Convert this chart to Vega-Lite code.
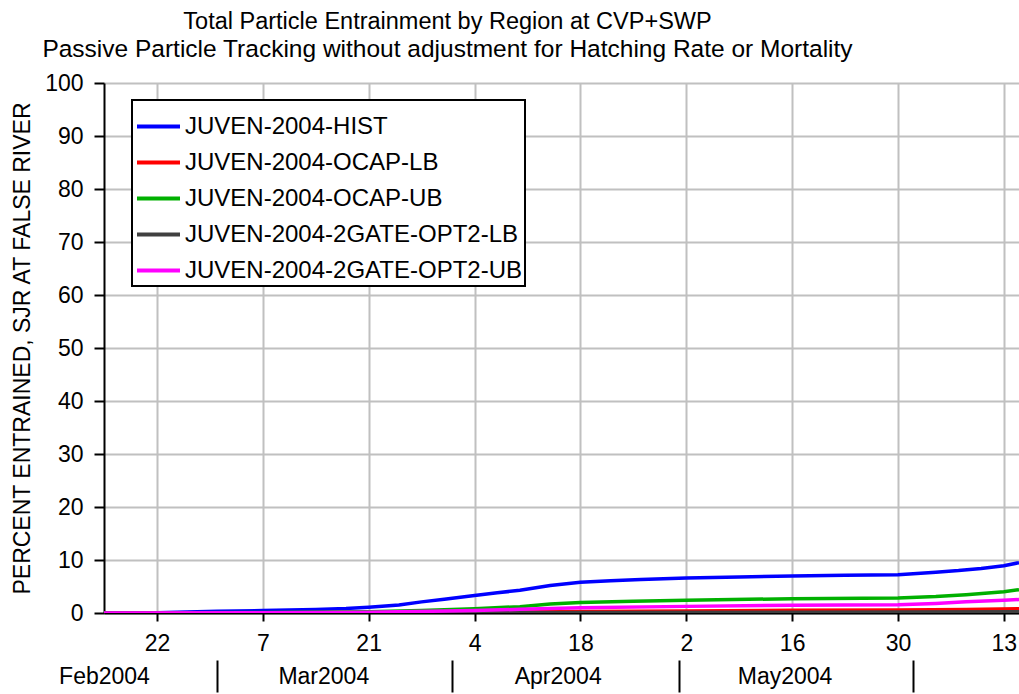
{
  "$schema": "https://vega.github.io/schema/vega-lite/v6.json",
  "width": 915,
  "height": 530,
  "autosize": {"type": "none"},
  "padding": {"left": 104, "top": 83, "right": 0, "bottom": 81},
  "background": "white",
  "title": {
    "text": "Total Particle Entrainment by Region at CVP+SWP",
    "subtitle": "Passive Particle Tracking without adjustment for Hatching Rate or Mortality",
    "anchor": "middle",
    "frame": "group",
    "dx": -114,
    "offset": 11,
    "fontSize": 23.5,
    "fontWeight": "normal",
    "font": "Liberation Sans",
    "color": "black",
    "subtitleFontSize": 24.5,
    "subtitleFont": "Liberation Sans",
    "subtitleColor": "black",
    "subtitlePadding": 4
  },
  "config": {
    "font": "Liberation Sans",
    "view": {"stroke": null},
    "axis": {
      "labelFont": "Liberation Sans",
      "labelFontSize": 23,
      "labelColor": "black",
      "titleFont": "Liberation Sans",
      "titleColor": "black",
      "titleFontWeight": "normal",
      "gridColor": "#c0c0c0",
      "gridWidth": 2,
      "gridOpacity": 1,
      "tickColor": "black",
      "tickWidth": 2,
      "domainColor": "black",
      "domainWidth": 2
    }
  },
  "resolve": {"axis": {"x": "independent"}},
  "layer": [
    {
      "data": {
        "values": [
          {"series": "JUVEN-2004-HIST", "date": "2004-02-15T00:00", "value": 0},
          {"series": "JUVEN-2004-HIST", "date": "2004-02-22T00:00", "value": 0.05},
          {"series": "JUVEN-2004-HIST", "date": "2004-02-26T00:00", "value": 0.2},
          {"series": "JUVEN-2004-HIST", "date": "2004-03-01T00:00", "value": 0.35},
          {"series": "JUVEN-2004-HIST", "date": "2004-03-07T00:00", "value": 0.45},
          {"series": "JUVEN-2004-HIST", "date": "2004-03-14T00:00", "value": 0.65},
          {"series": "JUVEN-2004-HIST", "date": "2004-03-18T00:00", "value": 0.85},
          {"series": "JUVEN-2004-HIST", "date": "2004-03-21T00:00", "value": 1.1},
          {"series": "JUVEN-2004-HIST", "date": "2004-03-25T00:00", "value": 1.5},
          {"series": "JUVEN-2004-HIST", "date": "2004-03-28T00:00", "value": 2.1},
          {"series": "JUVEN-2004-HIST", "date": "2004-03-31T00:00", "value": 2.6},
          {"series": "JUVEN-2004-HIST", "date": "2004-04-04T00:00", "value": 3.3},
          {"series": "JUVEN-2004-HIST", "date": "2004-04-07T00:00", "value": 3.8},
          {"series": "JUVEN-2004-HIST", "date": "2004-04-10T00:00", "value": 4.3},
          {"series": "JUVEN-2004-HIST", "date": "2004-04-14T00:00", "value": 5.2},
          {"series": "JUVEN-2004-HIST", "date": "2004-04-18T00:00", "value": 5.8},
          {"series": "JUVEN-2004-HIST", "date": "2004-04-22T00:00", "value": 6.1},
          {"series": "JUVEN-2004-HIST", "date": "2004-04-26T00:00", "value": 6.3},
          {"series": "JUVEN-2004-HIST", "date": "2004-05-02T00:00", "value": 6.6},
          {"series": "JUVEN-2004-HIST", "date": "2004-05-09T00:00", "value": 6.8},
          {"series": "JUVEN-2004-HIST", "date": "2004-05-16T00:00", "value": 7.0},
          {"series": "JUVEN-2004-HIST", "date": "2004-05-23T00:00", "value": 7.1},
          {"series": "JUVEN-2004-HIST", "date": "2004-05-30T00:00", "value": 7.2},
          {"series": "JUVEN-2004-HIST", "date": "2004-06-01T00:00", "value": 7.4},
          {"series": "JUVEN-2004-HIST", "date": "2004-06-04T00:00", "value": 7.7},
          {"series": "JUVEN-2004-HIST", "date": "2004-06-07T00:00", "value": 8.0},
          {"series": "JUVEN-2004-HIST", "date": "2004-06-10T00:00", "value": 8.4},
          {"series": "JUVEN-2004-HIST", "date": "2004-06-13T00:00", "value": 8.9},
          {"series": "JUVEN-2004-HIST", "date": "2004-06-15T00:00", "value": 9.5},
          {"series": "JUVEN-2004-OCAP-LB", "date": "2004-02-15T00:00", "value": 0},
          {"series": "JUVEN-2004-OCAP-LB", "date": "2004-03-21T00:00", "value": 0.05},
          {"series": "JUVEN-2004-OCAP-LB", "date": "2004-04-04T00:00", "value": 0.15},
          {"series": "JUVEN-2004-OCAP-LB", "date": "2004-04-18T00:00", "value": 0.3},
          {"series": "JUVEN-2004-OCAP-LB", "date": "2004-05-02T00:00", "value": 0.4},
          {"series": "JUVEN-2004-OCAP-LB", "date": "2004-05-16T00:00", "value": 0.5},
          {"series": "JUVEN-2004-OCAP-LB", "date": "2004-05-30T00:00", "value": 0.55},
          {"series": "JUVEN-2004-OCAP-LB", "date": "2004-06-08T00:00", "value": 0.65},
          {"series": "JUVEN-2004-OCAP-LB", "date": "2004-06-15T00:00", "value": 0.8},
          {"series": "JUVEN-2004-OCAP-UB", "date": "2004-02-15T00:00", "value": 0},
          {"series": "JUVEN-2004-OCAP-UB", "date": "2004-03-07T00:00", "value": 0.1},
          {"series": "JUVEN-2004-OCAP-UB", "date": "2004-03-21T00:00", "value": 0.25},
          {"series": "JUVEN-2004-OCAP-UB", "date": "2004-03-28T00:00", "value": 0.45},
          {"series": "JUVEN-2004-OCAP-UB", "date": "2004-04-04T00:00", "value": 0.8},
          {"series": "JUVEN-2004-OCAP-UB", "date": "2004-04-10T00:00", "value": 1.2},
          {"series": "JUVEN-2004-OCAP-UB", "date": "2004-04-14T00:00", "value": 1.7},
          {"series": "JUVEN-2004-OCAP-UB", "date": "2004-04-18T00:00", "value": 2.0},
          {"series": "JUVEN-2004-OCAP-UB", "date": "2004-04-25T00:00", "value": 2.2},
          {"series": "JUVEN-2004-OCAP-UB", "date": "2004-05-02T00:00", "value": 2.4},
          {"series": "JUVEN-2004-OCAP-UB", "date": "2004-05-16T00:00", "value": 2.7},
          {"series": "JUVEN-2004-OCAP-UB", "date": "2004-05-30T00:00", "value": 2.85},
          {"series": "JUVEN-2004-OCAP-UB", "date": "2004-06-04T00:00", "value": 3.1},
          {"series": "JUVEN-2004-OCAP-UB", "date": "2004-06-08T00:00", "value": 3.45},
          {"series": "JUVEN-2004-OCAP-UB", "date": "2004-06-13T00:00", "value": 4.0},
          {"series": "JUVEN-2004-OCAP-UB", "date": "2004-06-15T00:00", "value": 4.4},
          {"series": "JUVEN-2004-2GATE-OPT2-LB", "date": "2004-02-15T00:00", "value": 0},
          {"series": "JUVEN-2004-2GATE-OPT2-LB", "date": "2004-04-04T00:00", "value": 0.05},
          {"series": "JUVEN-2004-2GATE-OPT2-LB", "date": "2004-04-18T00:00", "value": 0.1},
          {"series": "JUVEN-2004-2GATE-OPT2-LB", "date": "2004-05-16T00:00", "value": 0.15},
          {"series": "JUVEN-2004-2GATE-OPT2-LB", "date": "2004-06-15T00:00", "value": 0.25},
          {"series": "JUVEN-2004-2GATE-OPT2-UB", "date": "2004-02-15T00:00", "value": 0},
          {"series": "JUVEN-2004-2GATE-OPT2-UB", "date": "2004-03-07T00:00", "value": 0.05},
          {"series": "JUVEN-2004-2GATE-OPT2-UB", "date": "2004-03-21T00:00", "value": 0.15},
          {"series": "JUVEN-2004-2GATE-OPT2-UB", "date": "2004-04-04T00:00", "value": 0.45},
          {"series": "JUVEN-2004-2GATE-OPT2-UB", "date": "2004-04-10T00:00", "value": 0.7},
          {"series": "JUVEN-2004-2GATE-OPT2-UB", "date": "2004-04-18T00:00", "value": 1.0},
          {"series": "JUVEN-2004-2GATE-OPT2-UB", "date": "2004-05-02T00:00", "value": 1.25},
          {"series": "JUVEN-2004-2GATE-OPT2-UB", "date": "2004-05-16T00:00", "value": 1.45},
          {"series": "JUVEN-2004-2GATE-OPT2-UB", "date": "2004-05-30T00:00", "value": 1.55},
          {"series": "JUVEN-2004-2GATE-OPT2-UB", "date": "2004-06-04T00:00", "value": 1.8},
          {"series": "JUVEN-2004-2GATE-OPT2-UB", "date": "2004-06-08T00:00", "value": 2.1},
          {"series": "JUVEN-2004-2GATE-OPT2-UB", "date": "2004-06-13T00:00", "value": 2.4},
          {"series": "JUVEN-2004-2GATE-OPT2-UB", "date": "2004-06-15T00:00", "value": 2.55}
        ]
      },
      "mark": {"type": "line", "strokeWidth": 3.5, "clip": true},
      "encoding": {
        "x": {
          "field": "date",
          "type": "temporal",
          "scale": {"domain": [{"year": 2004, "month": 2, "date": 15}, {"year": 2004, "month": 6, "date": 15}]},
          "axis": {
            "orient": "bottom",
            "title": null,
            "values": [
              {"year": 2004, "month": 2, "date": 22},
              {"year": 2004, "month": 3, "date": 7},
              {"year": 2004, "month": 3, "date": 21},
              {"year": 2004, "month": 4, "date": 4},
              {"year": 2004, "month": 4, "date": 18},
              {"year": 2004, "month": 5, "date": 2},
              {"year": 2004, "month": 5, "date": 16},
              {"year": 2004, "month": 5, "date": 30},
              {"year": 2004, "month": 6, "date": 13}
            ],
            "format": "%-d",
            "grid": true,
            "tickSize": 8,
            "labelPadding": 11,
            "labelOverlap": false,
            "labelFlush": false
          }
        },
        "y": {
          "field": "value",
          "type": "quantitative",
          "scale": {"domain": [0, 100], "nice": false},
          "axis": {
            "title": "PERCENT ENTRAINED, SJR AT FALSE RIVER",
            "titleFontSize": 23,
            "titlePadding": 10,
            "values": [0, 10, 20, 30, 40, 50, 60, 70, 80, 90, 100],
            "tickSize": 10,
            "labelPadding": 11,
            "grid": true
          }
        },
        "color": {
          "field": "series",
          "type": "nominal",
          "scale": {
            "domain": ["JUVEN-2004-HIST", "JUVEN-2004-OCAP-LB", "JUVEN-2004-OCAP-UB", "JUVEN-2004-2GATE-OPT2-LB", "JUVEN-2004-2GATE-OPT2-UB"],
            "range": ["#0000ff", "#ff0000", "#00b000", "#404040", "#ff00ff"]
          },
          "legend": {
            "orient": "none",
            "legendX": 28,
            "legendY": 17,
            "title": null,
            "symbolType": "stroke",
            "symbolSize": 1849,
            "symbolStrokeWidth": 4,
            "labelFontSize": 24,
            "labelFont": "Liberation Sans",
            "labelColor": "black",
            "labelLimit": 0,
            "labelOffset": 3,
            "fillColor": "white",
            "strokeColor": "black",
            "padding": 3,
            "rowPadding": 0,
            "encode": {"legend": {"update": {"strokeWidth": {"value": 2}}}}
          }
        }
      }
    },
    {
      "data": {
        "values": [
          {"month": "2004-02-15T00:00"},
          {"month": "2004-03-15T00:00"},
          {"month": "2004-04-15T00:00"},
          {"month": "2004-05-15T00:00"}
        ]
      },
      "mark": {"type": "point", "opacity": 0},
      "encoding": {
        "x": {
          "field": "month",
          "type": "temporal",
          "scale": {"domain": [{"year": 2004, "month": 2, "date": 15}, {"year": 2004, "month": 6, "date": 15}]},
          "axis": {
            "orient": "bottom",
            "title": null,
            "values": [
              {"year": 2004, "month": 2, "date": 15},
              {"year": 2004, "month": 3, "date": 15},
              {"year": 2004, "month": 4, "date": 15},
              {"year": 2004, "month": 5, "date": 15}
            ],
            "format": "%b%Y",
            "grid": false,
            "domain": false,
            "ticks": false,
            "tickSize": 0,
            "labelPadding": 52,
            "labelOverlap": false,
            "labelFlush": false
          }
        }
      }
    },
    {
      "data": {
        "values": [
          {"boundary": "2004-03-01T00:00"},
          {"boundary": "2004-04-01T00:00"},
          {"boundary": "2004-05-01T00:00"},
          {"boundary": "2004-06-01T00:00"}
        ]
      },
      "mark": {"type": "point", "opacity": 0},
      "encoding": {
        "x": {
          "field": "boundary",
          "type": "temporal",
          "scale": {"domain": [{"year": 2004, "month": 2, "date": 15}, {"year": 2004, "month": 6, "date": 15}]},
          "axis": {
            "orient": "bottom",
            "title": null,
            "values": [
              {"year": 2004, "month": 3, "date": 1},
              {"year": 2004, "month": 4, "date": 1},
              {"year": 2004, "month": 5, "date": 1},
              {"year": 2004, "month": 6, "date": 1}
            ],
            "labels": false,
            "grid": false,
            "domain": false,
            "ticks": true,
            "tickSize": 32,
            "offset": 47
          }
        }
      }
    },
    {
      "mark": {"type": "rule", "color": "black", "strokeWidth": 2},
      "encoding": {"y": {"datum": 100}}
    }
  ]
}
